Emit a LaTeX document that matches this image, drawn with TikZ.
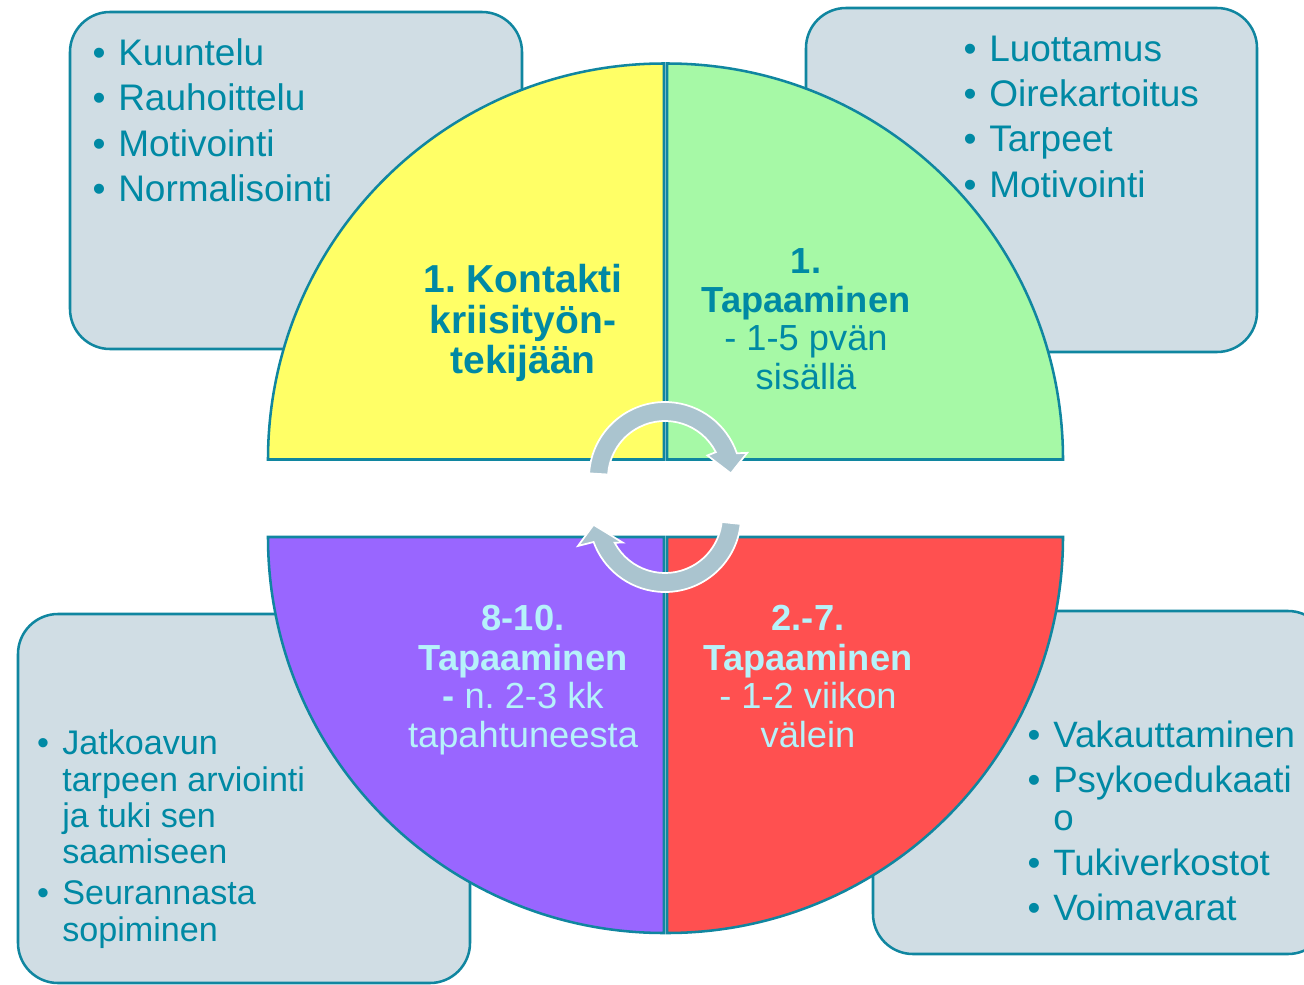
\documentclass[tikz,border=0pt]{standalone}
\usepackage{fontspec}
\setmainfont{Liberation Sans}
\usetikzlibrary{calc}
\frenchspacing
\definecolor{tealtxt}{RGB}{0,137,164}
\definecolor{boxfill}{RGB}{208,221,228}
\definecolor{boxline}{RGB}{16,134,160}
\definecolor{qyellow}{RGB}{255,255,102}
\definecolor{qgreen}{RGB}{166,249,166}
\definecolor{qpurple}{RGB}{153,102,255}
\definecolor{qred}{RGB}{255,80,80}
\definecolor{lightcyan}{RGB}{182,242,250}
\definecolor{arrowfill}{RGB}{170,196,207}
\tikzset{
  infobox/.style={draw=boxline, fill=boxfill, line width=1.9pt, rounded corners=30pt},
  quad/.style={draw=boxline, line width=1.9pt, line join=miter},
  cyc/.style={fill=arrowfill, draw=white, line width=1.3pt},
  itemA/.style={anchor=base west, inner sep=0pt, text=tealtxt, font=\fontsize{27.75}{30}\selectfont},
  bulA/.style={anchor=base, inner sep=0pt, text=tealtxt, font=\fontsize{27.75}{30}\selectfont},
  itemB/.style={anchor=base west, inner sep=0pt, text=tealtxt, font=\fontsize{25.6}{28}\selectfont},
  bulB/.style={anchor=base, inner sep=0pt, text=tealtxt, font=\fontsize{25.6}{28}\selectfont},
  itemC/.style={anchor=base west, inner sep=0pt, text=tealtxt, font=\fontsize{27.5}{30}\selectfont},
  bulC/.style={anchor=base, inner sep=0pt, text=tealtxt, font=\fontsize{27.5}{30}\selectfont},
  ctrY/.style={anchor=base, inner sep=0pt, text=tealtxt, font=\fontsize{29.25}{32}\selectfont\bfseries},
  ctrG/.style={anchor=base, inner sep=0pt, text=tealtxt, font=\fontsize{27.2}{30}\selectfont},
  ctrL/.style={anchor=base, inner sep=0pt, text=lightcyan, font=\fontsize{27.2}{30}\selectfont},
}
\begin{document}
\begin{tikzpicture}[x=0.75pt,y=-0.75pt]
\useasboundingbox (0,0) rectangle (1304,985);
\clip (0,0) rectangle (1304,985);
% info boxes
\draw[infobox] (70,12) rectangle (522,349);
\draw[infobox] (806,8) rectangle (1257,352);
\draw[infobox] (18,614) rectangle (470,983);
\draw[infobox] (873,611) rectangle (1328,954);
% quadrants
\filldraw[quad, fill=qyellow] (664,459.5) -- ++(180:396) arc[start angle=180, end angle=270, radius=396] -- cycle;
\filldraw[quad, fill=qgreen] (667,459.5) -- ++(0:396) arc[start angle=0, end angle=-90, radius=396] -- cycle;
\filldraw[quad, fill=qpurple] (664,537) -- ++(180:396) arc[start angle=180, end angle=90, radius=396] -- cycle;
\filldraw[quad, fill=qred] (667,537) -- ++(0:396) arc[start angle=0, end angle=90, radius=396] -- cycle;
% cycle arrows
\coordinate (c1) at (665,478);
\coordinate (c2) at (665,516);
\filldraw[cyc] ($(c1)+(183.5:76)$) arc[start angle=183.5, end angle=341, radius=76]
  -- ($(c1)+(343:86)$) -- ($(c1)+(356:66)$) -- ($(c1)+(332:48)$) -- ($(c1)+(333:57)$)
  arc[start angle=333, end angle=183.5, radius=57] -- cycle;
\filldraw[cyc] ($(c2)+(6:76)$) arc[start angle=6, end angle=160, radius=76]
  -- ($(c2)+(161:92)$) -- ($(c2)+(173:72)$) -- ($(c2)+(148:50)$) -- ($(c2)+(152:57)$)
  arc[start angle=152, end angle=6, radius=57] -- cycle;
% top-left list
\node[bulA] (tlb1) at (99,65) {•};
\node[itemA] (tl1) at (118,65) {Kuuntelu};
\node[bulA] (tlb2) at (99,110) {•};
\node[itemA] (tl2) at (118,110) {Rauhoittelu};
\node[bulA] (tlb3) at (99,156) {•};
\node[itemA] (tl3) at (118,156) {Motivointi};
\node[bulA] (tlb4) at (99,201) {•};
\node[itemA] (tl4) at (118,201) {Normalisointi};
% top-right list
\node[bulA] (trb1) at (970,61) {•};
\node[itemA] (tr1) at (989,61) {Luottamus};
\node[bulA] (trb2) at (970,106) {•};
\node[itemA] (tr2) at (989,106) {Oirekartoitus};
\node[bulA] (trb3) at (970,151) {•};
\node[itemA] (tr3) at (989,151) {Tarpeet};
\node[bulA] (trb4) at (970,197) {•};
\node[itemA] (tr4) at (989,197) {Motivointi};
% bottom-left list
\node[bulB] (blb1) at (43,754) {•};
\node[itemB] (bl1) at (62,754) {Jatkoavun};
\node[itemB] (bl2) at (62,791) {tarpeen arviointi};
\node[itemB] (bl3) at (62,827) {ja tuki sen};
\node[itemB] (bl4) at (62,863) {saamiseen};
\node[bulB] (blb2) at (43,904) {•};
\node[itemB] (bl5) at (62,904) {Seurannasta};
\node[itemB] (bl6) at (62,941) {sopiminen};
% bottom-right list
\node[bulC] (brb1) at (1034,747) {•};
\node[itemC] (br1) at (1053,747) {Vakauttaminen};
\node[bulC] (brb2) at (1034,792) {•};
\node[itemC] (br2) at (1053,792) {Psykoedukaati};
\node[itemC] (br3) at (1053,830) {o};
\node[bulC] (brb3) at (1034,875) {•};
\node[itemC] (br4) at (1053,875) {Tukiverkostot};
\node[bulC] (brb4) at (1034,920) {•};
\node[itemC] (br5) at (1053,920) {Voimavarat};
% yellow quadrant
\node[ctrY] (y1) at (523,292) {1. Kontakti};
\node[ctrY] (y2) at (523,333) {kriisityön-};
\node[ctrY] (y3) at (523,373) {tekijään};
% green quadrant
\node[ctrG] (g1) at (806,273) {\textbf{1.}};
\node[ctrG] (g2) at (806,312) {\textbf{Tapaaminen}};
\node[ctrG] (g3) at (806,350) {- 1-5 pvän};
\node[ctrG] (g4) at (806,389) {sisällä};
% purple quadrant
\node[ctrL] (p1) at (523,630) {\textbf{8-10.}};
\node[ctrL] (p2) at (523,670) {\textbf{Tapaaminen}};
\node[ctrL] (p3) at (523,708) {\textbf{-} n. 2-3 kk};
\node[ctrL] (p4) at (523,747) {tapahtuneesta};
% red quadrant
\node[ctrL] (r1) at (808,630) {\textbf{2.-7.}};
\node[ctrL] (r2) at (808,670) {\textbf{Tapaaminen}};
\node[ctrL] (r3) at (808,708) {- 1-2 viikon};
\node[ctrL] (r4) at (808,747) {välein};
\end{tikzpicture}
\end{document}
